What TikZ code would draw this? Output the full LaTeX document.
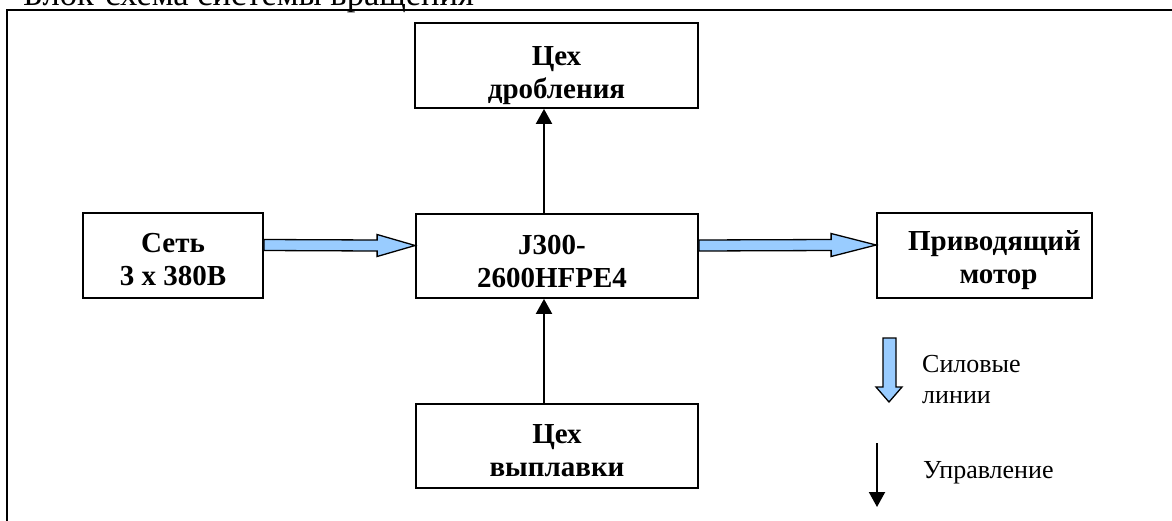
\documentclass[tikz,border=0pt]{standalone}
\usepackage{fontspec}
\setmainfont{Liberation Serif}
\usetikzlibrary{arrows.meta,calc}
\definecolor{powerblue}{HTML}{99CCFF}
\newcommand\myup[1]{\rule{0pt}{#1}}
\begin{document}
\begin{tikzpicture}[x=1pt,y=-1pt,
  blk/.style={draw, line width=1.8pt, align=center, inner sep=0pt,
    font=\bfseries\fontsize{29}{33}\selectfont},
  power/.style={draw, fill=powerblue, line width=1.3pt, line join=miter},
  ctrl/.style={line width=2pt, -{Triangle[width=16pt,length=15pt]}},
  lbl/.style={anchor=base west, inner sep=0pt, align=left,
    font=\fontsize{26}{31}\selectfont}]
\useasboundingbox (0,0) rectangle (1172,520);
\clip (0,0) rectangle (1172,520);
\fill[white] (0,0) rectangle (1172,520);
% frame and title
\draw[line width=2pt] (7,10) rectangle (1200,560);
\node[anchor=base west, inner sep=0pt, font=\fontsize{34.5}{40}\selectfont] (title) at (23,5) {Блок-схема системы вращения};
% boxes
\node[blk, minimum width=180pt, minimum height=85pt] (net) at (173,255.5) {\myup{28pt}Сеть\\3 x 380В};
\node[blk, minimum width=282pt, minimum height=84pt] (jbox) at (557,256) {\myup{30pt}\kern-10pt J300-\\2600HFPE4\kern10pt};
\node[blk, minimum width=215pt, minimum height=85pt] (motor) at (984.5,255.5) {\myup{30pt}\kern20pt Приводящий\\\kern28pt мотор};
\node[blk, minimum width=283pt, minimum height=85pt] (crush) at (556.5,65.5) {\myup{40pt}Цех\\дробления};
\node[blk, minimum width=282pt, minimum height=84pt] (melt) at (557,446) {\myup{28pt}Цех\\выплавки};
% power arrows
\draw[power] ([yshift=16pt]net.east) -- ([xshift=-38pt,yshift=16pt]jbox.west)
  -- ([xshift=-38pt,yshift=21.5pt]jbox.west) -- ([yshift=10.5pt]jbox.west)
  -- ([xshift=-38pt,yshift=-0.5pt]jbox.west) -- ([xshift=-38pt,yshift=5pt]jbox.west)
  -- ([yshift=5pt]net.east) -- cycle;
\draw[power] ([yshift=16pt]jbox.east) -- ([xshift=-45pt,yshift=16pt]motor.west)
  -- ([xshift=-45pt,yshift=22pt]motor.west) -- ([yshift=10.5pt]motor.west)
  -- ([xshift=-45pt,yshift=-1pt]motor.west) -- ([xshift=-45pt,yshift=5pt]motor.west)
  -- ([yshift=5pt]jbox.east) -- cycle;
% control arrows
\draw[ctrl] ([xshift=-13pt]jbox.north) -- ([xshift=-12.5pt]crush.south);
\draw[ctrl] ([xshift=-13pt]melt.north) -- ([xshift=-13pt]jbox.south);
% legend
\draw[power] (883,338) -- (896,338) -- (896,387) -- (902,387) -- (889,402)
  -- (876,387) -- (883,387) -- cycle;
\node[lbl] (lgpower) at (922,403) {Силовые\\линии};
\coordinate (lgc1) at (877,443);
\coordinate (lgc2) at (877,507);
\draw[ctrl] (lgc1) -- (lgc2);
\node[lbl] (lgctrl) at (923,478) {Управление};
\end{tikzpicture}
\end{document}
